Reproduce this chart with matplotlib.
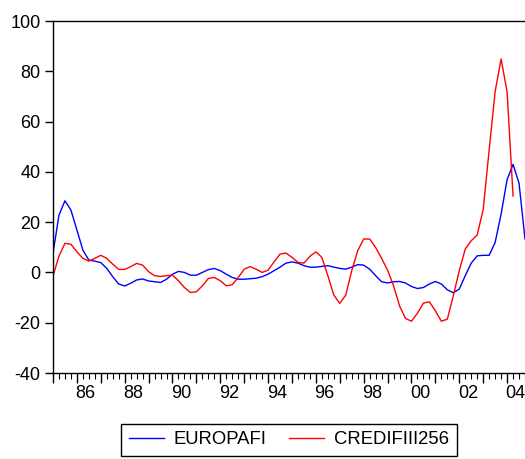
import matplotlib
matplotlib.use("Agg")
import matplotlib.pyplot as plt
import numpy as np

plt.rcParams["font.family"] = ["Liberation Sans", "DejaVu Sans"]
plt.rcParams["axes.unicode_minus"] = False

# Quarterly series starting 1985Q1
start_year = 1985
europafi = [
    7.6, 22.8, 28.5, 24.8, 16.9, 8.9, 4.9, 4.5, 3.9, 1.6,
    -1.7, -4.6, -5.4, -4.3, -3.0, -2.6, -3.4, -3.7, -4.0, -2.7,
    -0.7, 0.4, 0.0, -1.1, -1.1, 0.0, 1.1, 1.6, 0.7, -0.7,
    -2.0, -2.7, -2.7, -2.5, -2.3, -1.7, -0.7, 0.7, 2.1, 3.7,
    4.2, 3.7, 2.7, 2.1, 2.1, 2.4, 2.7, 2.1, 1.6, 1.3,
    2.1, 3.1, 2.9, 1.3, -1.3, -3.7, -4.2, -3.7, -3.6, -4.2,
    -5.6, -6.4, -6.0, -4.6, -3.6, -4.6, -6.9, -8.1, -6.6, -1.3,
    3.7, 6.6, 6.8, 6.8, 11.9, 23.2, 36.9, 43.0, 35.5, 13.3,
]
credifiii256 = [
    -1.4, 6.5, 11.6, 11.2, 8.2, 5.6, 4.5, 5.6, 6.8, 5.6,
    3.3, 1.2, 1.2, 2.3, 3.6, 2.9, 0.3, -1.3, -1.6, -1.3,
    -1.1, -3.3, -6.0, -8.0, -7.7, -5.3, -2.4, -2.0, -3.3, -5.3,
    -4.9, -2.0, 1.3, 2.3, 1.3, 0.0, 0.9, 4.2, 7.3, 7.7,
    6.0, 4.0, 3.7, 6.4, 8.2, 6.0, -1.3, -9.0, -12.3, -9.0,
    0.7, 8.6, 13.3, 13.3, 9.9, 5.6, 0.9, -5.3, -13.3, -18.3,
    -19.4, -16.2, -12.2, -11.7, -15.3, -19.4, -18.6, -9.3, 0.7, 9.3,
    12.6, 14.9, 25.0, 48.7, 71.9, 84.9, 71.9, 30.4,
]
year_labels = ["86", "88", "90", "92", "94", "96", "98", "00", "02", "04"]
label_years = list(range(1986, 2005, 2))

t_eu = start_year + np.arange(len(europafi)) / 4
t_cr = start_year + np.arange(len(credifiii256)) / 4

fig = plt.figure(figsize=(5.25, 4.59), dpi=100)
ax = fig.add_axes([53 / 525, 86 / 459, 472 / 525, 352 / 459])

ax.plot(t_eu, europafi, color="#0000ff", lw=1.0, label="EUROPAFI")
ax.plot(t_cr, credifiii256, color="#ff0000", lw=1.0, label="CREDIFIII256")

ax.set_xlim(start_year, start_year + (len(europafi) - 1) / 4)
ax.set_ylim(-40, 100)
ax.set_yticks(np.arange(-40, 101, 20))
ax.tick_params(axis="y", direction="out", length=6, width=1, pad=3, labelsize=13)

# year ticks, quarter minor ticks, labels drawn mid-year like EViews
ax.set_xticks(np.arange(1985, 2005, 1))
ax.set_xticks(np.arange(1985, 2005, 0.25), minor=True)
ax.set_xticklabels([])
ax.tick_params(axis="x", which="major", direction="out", length=7, width=1)
ax.tick_params(axis="x", which="minor", direction="out", length=4, width=0.8)
for yr, lab in zip(label_years, year_labels):
    ax.text(yr + 0.36, -0.035, lab, transform=ax.get_xaxis_transform(),
            ha="center", va="top", fontsize=13)

ax.spines["right"].set_visible(False)
for s in ["left", "bottom", "top"]:
    ax.spines[s].set_linewidth(1.0)

fig.legend(loc="center", bbox_to_anchor=(289 / 525, 1 - 440 / 459), ncol=2,
           frameon=True, fancybox=False, edgecolor="black", fontsize=13.3,
           handlelength=1.9, handletextpad=0.55, columnspacing=1.2,
           borderpad=0.4, framealpha=1)

fig.savefig("out.png", dpi=100)
